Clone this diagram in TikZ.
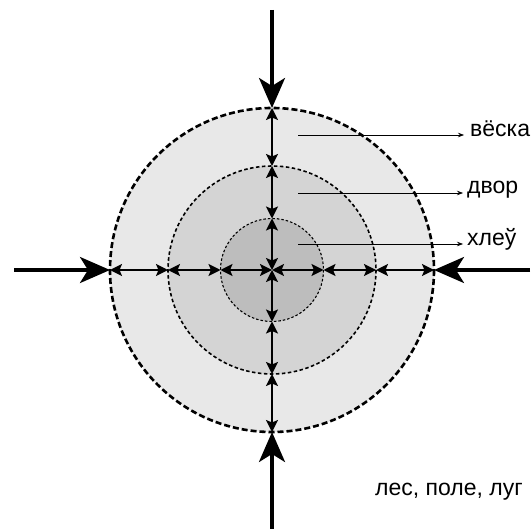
\documentclass[tikz,border=0pt]{standalone}
\usepackage{fontspec}
\setmainfont{Liberation Sans}
\usetikzlibrary{arrows.meta,calc}
\definecolor{zonea}{gray}{0.91}
\definecolor{zoneb}{gray}{0.83}
\definecolor{zonec}{gray}{0.74}
\tikzset{
	inflow/.style={line width=3.5pt,-{Stealth[length=30pt,width=26pt,inset=8pt]}},
	flow/.style={line width=1.8pt,{Stealth[length=12pt,width=12pt,inset=2.5pt]}-{Stealth[length=12pt,width=12pt,inset=2.5pt]}},
	pointer/.style={line width=0.7pt,-{Stealth[length=6pt,width=4.5pt]}},
	zonelabel/.style={anchor=base west,inner sep=0pt,font=\fontsize{23}{27}\selectfont}
}
\begin{document}
\begin{tikzpicture}[x=1pt,y=-1pt]
	\useasboundingbox (0,0) rectangle (532,529);
	\coordinate (c) at (272,270);
	% zones
	\fill[zonea] (c) circle (162);
	\fill[zoneb] (c) circle (104);
	\fill[zonec] (c) circle (51.5);
	\draw[line width=2.6pt,dash pattern=on 6pt off 3pt] (c) circle (162);
	\draw[line width=1.6pt,dash pattern=on 3.5pt off 2.5pt] (c) circle (104);
	\draw[line width=1.1pt,dash pattern=on 2.5pt off 2pt] (c) circle (51.5);
	% flows between zones
	\foreach \a/\n/\far in {0/e/258,90/s/259,180/w/258,270/n/260} {
		\coordinate (\n1) at ($(c)+(\a:51.5)$);
		\coordinate (\n2) at ($(c)+(\a:104)$);
		\coordinate (\n3) at ($(c)+(\a:162)$);
		\coordinate (\n4) at ($(c)+(\a:\far)$);
		\draw[flow] (c) -- (\n1);
		\draw[flow] (\n1) -- (\n2);
		\draw[flow] (\n2) -- (\n3);
		\draw[inflow] (\n4) -- (\n3);
	}
	% labels
	\node[zonelabel] (veska) at (470,137) {вёска};
	\node[zonelabel] (dvor) at (467,194) {двор};
	\node[zonelabel] (khleu) at (467,245) {хлеў};
	\node[zonelabel] (les) at (375,495) {лес, поле, луг};
	\coordinate (pa) at (298,135);
	\coordinate (pb) at (298,193);
	\coordinate (pc) at (298,244);
	\draw[pointer] (pa) -- ([xshift=-6pt]pa -| veska.west);
	\draw[pointer] (pb) -- ([xshift=-4pt]pb -| dvor.west);
	\draw[pointer] (pc) -- ([xshift=-4pt]pc -| khleu.west);
\end{tikzpicture}
\end{document}
